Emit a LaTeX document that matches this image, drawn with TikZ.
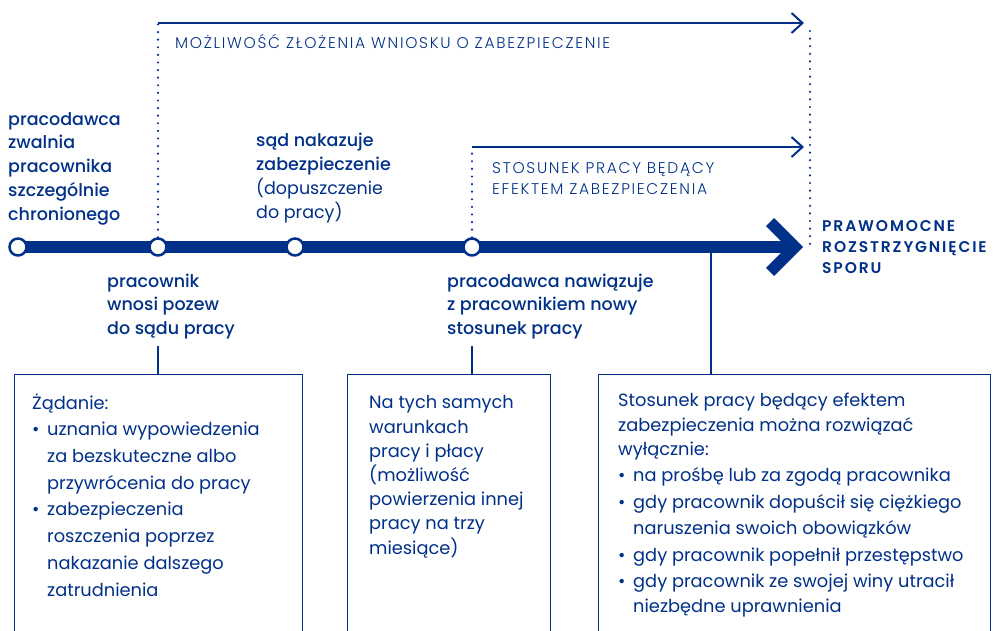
\documentclass[tikz,border=0pt]{standalone}
\usepackage{fontspec}
\setmainfont{Poppins}[BoldFont={* Medium}]
\newfontfamily\capsfont{Poppins Light}[LetterSpace=11]
\newfontfamily\capsbold{Poppins SemiBold}[LetterSpace=12]
\usetikzlibrary{arrows.meta,positioning}
\definecolor{navy}{HTML}{003087}
\newcommand\bul{\makebox[15pt][l]{\textbullet}}
\newcommand\hng{\hspace*{15pt}}

\begin{document}
\begin{tikzpicture}[x=1pt,y=-1pt,
	stop/.style={circle,draw=navy,fill=white,line width=2.5pt,inner sep=0pt,minimum size=17pt},
	lbl/.style={inner sep=0pt,anchor=base west,align=left,text=navy,font=\fontsize{17.5}{23.7}\selectfont},
	caps/.style={inner sep=0pt,anchor=base west,align=left,text=navy,font=\fontsize{15.5}{20.5}\selectfont\capsfont},
	panel/.style={draw=navy,line width=1.3pt,inner sep=0pt,anchor=north west,minimum height=300pt},
	ptext/.style={inner sep=0pt,anchor=base west,align=left,text=navy,font=\fontsize{17.8}{26.7}\selectfont},
	link/.style={navy,line width=1.3pt},
	span/.style={navy,line width=2pt,-{Straight Barb[length=11pt,width=20pt]}},
	dots/.style={navy,line width=2.4pt,line cap=round,dash pattern=on 0pt off 7.6pt}]
	\useasboundingbox (0,0) rectangle (996,630);

	% time axis
	\coordinate (head) at (795,247);
	\draw[navy,line width=11.5pt] (18,247) -- (790,247);
	\draw[navy,line width=11.5pt,line join=miter] (770,222) -- (head) -- (770,272);
	\node[stop] (c1) at (18,247) {};
	\node[stop] (c2) at (158,247) {};
	\node[stop] (c3) at (295,247) {};
	\node[stop] (c4) at (472,247) {};

	% periods
	\coordinate (s1) at (158,23);
	\coordinate (e1) at (804,23);
	\coordinate (s2) at (472,147);
	\coordinate (e2) at (804,147);
	\draw[dots] (c2.north) -- (s1);
	\draw[span] (s1) -- (e1);
	\draw[dots] (c4.north) -- (s2);
	\draw[span] (s2) -- (e2);
	\draw[dots] (810,31) -- (810,250);
	\node[caps] (p1) at (175,48) {MOŻLIWOŚĆ ZŁOŻENIA WNIOSKU O ZABEZPIECZENIE};
	\node[caps] (p2) at (492,194) {STOSUNEK PRACY BĘDĄCY\\EFEKTEM ZABEZPIECZENIA};
	\node[caps,font=\fontsize{15.5}{21}\selectfont\capsbold] (end) at (822,273) {PRAWOMOCNE\\ROZSTRZYGNIĘCIE\\SPORU};

	% events
	\node[lbl,font=\fontsize{17.5}{23.7}\selectfont\bfseries] (t1) at (8,220) {pracodawca\\zwalnia\\pracownika\\szczególnie\\chronionego};
	\node[lbl] (t3) at (256,218) {\textbf{sąd nakazuje}\\\textbf{zabezpieczenie}\\(dopuszczenie\\do pracy)};
	\node[lbl,font=\fontsize{17.5}{23.3}\selectfont\bfseries] (t2) at (107,334) {pracownik\\wnosi pozew\\do sądu pracy};
	\node[lbl,font=\fontsize{17.5}{23.3}\selectfont\bfseries] (t4) at (447,334) {pracodawca nawiązuje\\z pracownikiem nowy\\stosunek pracy};

	% panels
	\node[panel,minimum width=288pt] (b1) at (14,374) {};
	\node[panel,minimum width=203pt] (b2) at (347,374) {};
	\node[panel,minimum width=392pt] (b3) at (598,374) {};
	\draw[link] (158,346) -- (b1.north -| c2);
	\draw[link] (472,346) -- (b2.north -| c4);
	\draw[link] (711,253) -- (b3.north -| 711,0);
	\node[ptext] (n1) at (32,596) {Żądanie:\\
		\bul uznania wypowiedzenia\\
		\hng za bezskuteczne albo\\
		\hng przywrócenia do pracy\\
		\bul zabezpieczenia\\
		\hng roszczenia poprzez\\
		\hng nakazanie dalszego\\
		\hng zatrudnienia};
	\node[ptext,font=\fontsize{17.8}{24.2}\selectfont] (n2) at (369,554) {Na tych samych\\warunkach\\pracy i płacy\\(możliwość\\powierzenia innej\\pracy na trzy\\miesiące)};
	\node[ptext,font=\fontsize{17.8}{24.5}\selectfont] (n3) at (618,612) {Stosunek pracy będący efektem\\
		zabezpieczenia można rozwiązać\\
		wyłącznie:\\[1.5pt]
		\bul na prośbę lub za zgodą pracownika\\[2pt]
		\bul gdy pracownik dopuścił się ciężkiego\\[2pt]
		\hng naruszenia swoich obowiązków\\[2pt]
		\bul gdy pracownik popełnił przestępstwo\\[2pt]
		\bul gdy pracownik ze swojej winy utracił\\
		\hng niezbędne uprawnienia};
\end{tikzpicture}
\end{document}
